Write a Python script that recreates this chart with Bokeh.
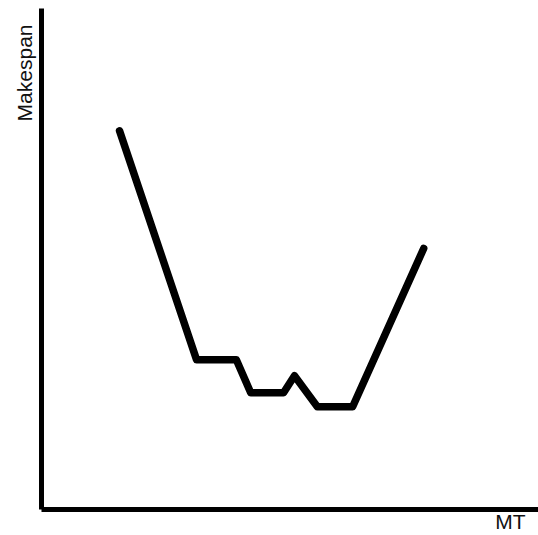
from bokeh.plotting import figure
from bokeh.models import Range1d, Title, FixedTicker
from bokeh.embed import file_html
from bokeh.resources import INLINE

# Data (arbitrary units 0-100)
mt_values = [15.7, 31.2, 39.2, 42.1, 48.7, 50.9, 55.5, 62.6, 76.9]
makespan_values = [75.6, 29.9, 29.9, 23.3, 23.3, 26.7, 20.5, 20.5, 52.1]
x_label = "MT"
y_label = "Makespan"

p = figure(width=538, height=535, output_backend="svg", toolbar_location=None,
           x_range=Range1d(0, 100), y_range=Range1d(0, 100),
           min_border_left=41, min_border_right=0, min_border_top=8, min_border_bottom=26)

p.line(mt_values, makespan_values, line_color="black", line_width=7.5,
       line_join="round", line_cap="round")

for ax in (p.xaxis, p.yaxis):
    ax.ticker = FixedTicker(ticks=[])
    ax.axis_line_width = 5
    ax.axis_line_color = "black"
    ax.major_tick_line_color = None
    ax.minor_tick_line_color = None
    ax.major_label_text_font_size = "0px"
    ax.major_tick_out = 0
    ax.major_label_standoff = 0

p.xgrid.visible = False
p.ygrid.visible = False
p.outline_line_color = None
p.background_fill_color = "white"
p.border_fill_color = "white"

p.add_layout(Title(text=y_label, align="right", offset=16, standoff=12,
                   text_font="Liberation Sans", text_font_size="21px",
                   text_font_style="normal", text_color="#111111"), "left")
p.add_layout(Title(text=x_label, align="right", offset=13, standoff=-4,
                   text_font="Liberation Sans", text_font_size="21px",
                   text_font_style="normal", text_color="#111111"), "below")

open("out.html", "w").write(file_html(p, INLINE))
